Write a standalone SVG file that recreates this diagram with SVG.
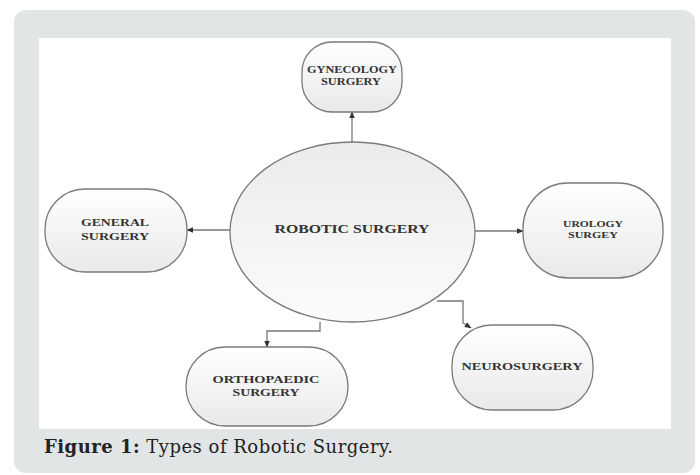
<svg xmlns="http://www.w3.org/2000/svg" width="700" height="475" viewBox="0 0 700 475">
<defs>
<linearGradient id="ng" x1="0" y1="0" x2="0" y2="1"><stop offset="0" stop-color="#ffffff"/><stop offset="1" stop-color="#e9e9e9"/></linearGradient>
<linearGradient id="eg" x1="0" y1="0" x2="0" y2="1"><stop offset="0" stop-color="#ebebeb"/><stop offset="1" stop-color="#fbfbfb"/></linearGradient>
<marker id="ah" viewBox="0 0 10 10" refX="9" refY="5" markerWidth="7" markerHeight="7" orient="auto" markerUnits="userSpaceOnUse"><path d="M0,1 L10,5 L0,9 Z" fill="#333"/></marker>
<style>
.node{fill:url(#ng);stroke:#7a7a7a;stroke-width:1.3}
.lbl{font-family:"Liberation Serif",serif;font-weight:bold;fill:#333;text-anchor:middle}
.conn{fill:none;stroke:#777;stroke-width:1.3;marker-end:url(#ah)}
.cap{font-family:"DejaVu Serif","Liberation Serif",serif;font-size:18px;fill:#222}
</style>
</defs>
<rect x="14" y="10" width="681" height="463" rx="12" fill="#e2e5e6"/>
<rect x="39" y="38" width="632" height="391" fill="#ffffff"/>
<g id="connectors">
<path class="conn" d="M352,142 V112"/>
<path class="conn" d="M230,230 H187"/>
<path class="conn" d="M475,231 H523"/>
<path class="conn" d="M320,322 V331 H267 V347"/>
<path class="conn" d="M437,301 H463 V323 L471,328"/>
</g>
<g id="robotic">
<ellipse cx="352.5" cy="232" rx="122.5" ry="90" fill="url(#eg)" stroke="#7a7a7a" stroke-width="1.3"/>
<text class="lbl" x="352" y="233" font-size="12" textLength="155" lengthAdjust="spacingAndGlyphs">ROBOTIC SURGERY</text>
</g>
<g id="gynecology">
<rect class="node" x="302" y="42" width="100" height="70" rx="30"/>
<text class="lbl" x="352" y="73" font-size="9.5" textLength="90" lengthAdjust="spacingAndGlyphs">GYNECOLOGY</text>
<text class="lbl" x="351" y="85" font-size="9.5" textLength="60" lengthAdjust="spacingAndGlyphs">SURGERY</text>
</g>
<g id="general">
<rect class="node" x="45" y="189" width="142" height="83" rx="40"/>
<text class="lbl" x="115" y="226" font-size="10" textLength="68" lengthAdjust="spacingAndGlyphs">GENERAL</text>
<text class="lbl" x="115" y="240" font-size="10" textLength="68" lengthAdjust="spacingAndGlyphs">SURGERY</text>
</g>
<g id="urology">
<rect class="node" x="523" y="183" width="140" height="95" rx="45"/>
<text class="lbl" x="593" y="227" font-size="9" textLength="60" lengthAdjust="spacingAndGlyphs">UROLOGY</text>
<text class="lbl" x="593" y="238" font-size="9" textLength="50" lengthAdjust="spacingAndGlyphs">SURGEY</text>
</g>
<g id="orthopaedic">
<rect class="node" x="186" y="347" width="162" height="79" rx="39"/>
<text class="lbl" x="266" y="383" font-size="10" textLength="107" lengthAdjust="spacingAndGlyphs">ORTHOPAEDIC</text>
<text class="lbl" x="266" y="396" font-size="10" textLength="67" lengthAdjust="spacingAndGlyphs">SURGERY</text>
</g>
<g id="neurosurgery">
<rect class="node" x="452" y="325" width="141" height="85" rx="40"/>
<text class="lbl" x="522" y="370" font-size="10" textLength="121" lengthAdjust="spacingAndGlyphs">NEUROSURGERY</text>
</g>
<text class="cap" x="44" y="453" textLength="349"><tspan font-weight="bold">Figure 1:</tspan> Types of Robotic Surgery.</text>
</svg>
